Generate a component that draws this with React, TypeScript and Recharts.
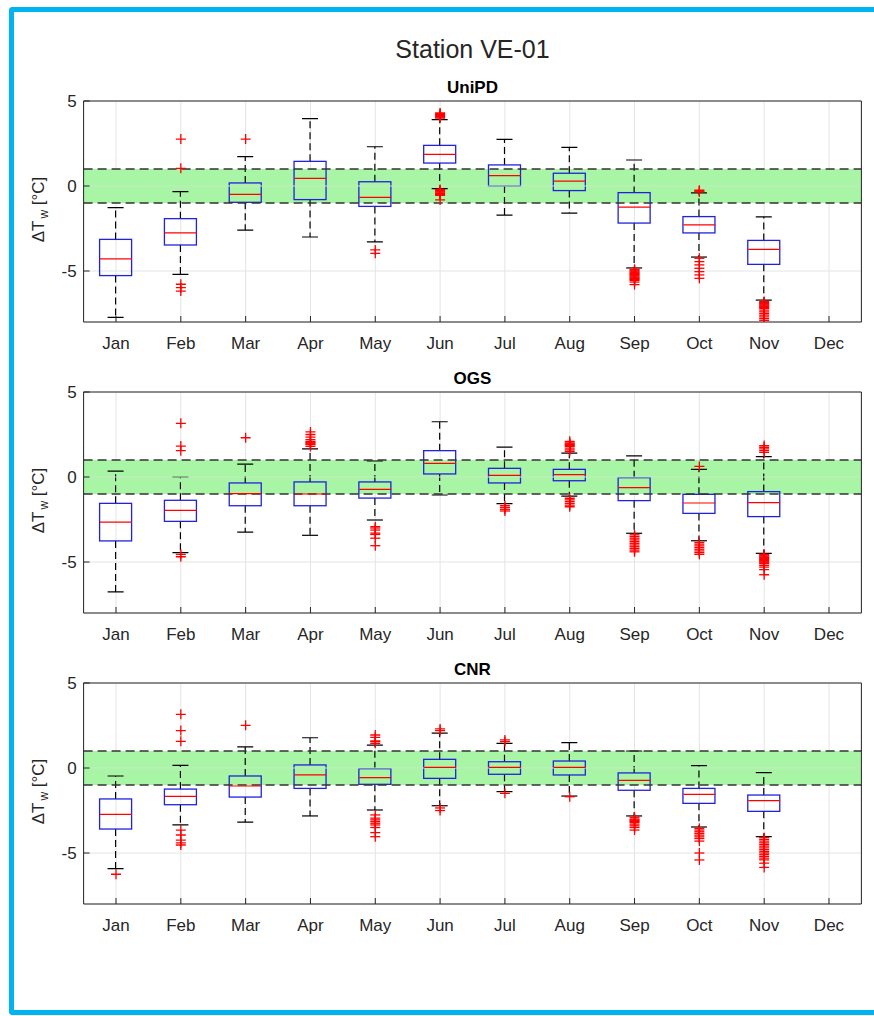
import React from 'react';
import { ComposedChart, Bar, Scatter, XAxis, YAxis, CartesianGrid, ReferenceArea, ReferenceLine } from 'recharts';

const FONT = '"Liberation Sans", Arial, Helvetica, sans-serif';
const TEXT = '#262626';
const BOX_W = 32;

const months = ['Jan', 'Feb', 'Mar', 'Apr', 'May', 'Jun', 'Jul', 'Aug', 'Sep', 'Oct', 'Nov', 'Dec'];
const monthTicks = [1, 2, 3, 4, 5, 6, 7, 8, 9, 10, 11, 12];
const yTicks = [-5, 0, 5];

// UniPD
const uniLo = [-7.73, -5.2, -2.59, -3.0, -3.29, -0.15, -1.71, -1.59, -4.82, -4.18, -6.71, null];
const uniQ1 = [-5.27, -3.47, -0.96, -0.8, -1.2, 1.35, 0.0, -0.27, -2.18, -2.76, -4.61, null];
const uniMed = [-4.29, -2.76, -0.49, 0.45, -0.67, 1.86, 0.61, 0.29, -1.24, -2.29, -3.73, null];
const uniQ3 = [-3.14, -1.92, 0.18, 1.45, 0.25, 2.39, 1.24, 0.75, -0.39, -1.8, -3.2, null];
const uniHi = [-1.27, -0.33, 1.73, 3.96, 2.31, 3.9, 2.74, 2.27, 1.53, -0.4, -1.82, null];
const uniOut = [
  [],
  [2.76, 1.04, -5.78, -5.98, -6.18],
  [2.76],
  [],
  [-3.76, -3.96],
  [4.0, 4.05, 4.1, 4.15, 4.2, 4.25, 4.3, -0.2, -0.25, -0.3, -0.35, -0.4, -0.45, -0.5, -0.55, -0.82],
  [],
  [],
  [-4.9, -4.95, -5.0, -5.05, -5.1, -5.15, -5.2, -5.25, -5.3, -5.35, -5.4, -5.45, -5.5, -5.55, -5.65, -5.8],
  [-0.35, -0.3, -0.25, -4.25, -4.45, -4.64, -4.84, -5.04, -5.23, -5.43],
  [-6.8, -6.85, -6.9, -6.95, -7.0, -7.05, -7.1, -7.15, -7.2, -7.3, -7.4, -7.5, -7.6, -7.7, -7.8, -7.9],
  [],
];

// OGS
const ogsLo = [-6.76, -4.45, -3.24, -3.43, -2.53, -1.06, -1.57, -1.12, -3.31, -3.75, -4.49, null];
const ogsQ1 = [-3.76, -2.61, -1.69, -1.69, -1.24, 0.18, -0.35, -0.22, -1.39, -2.14, -2.33, null];
const ogsMed = [-2.65, -1.96, -0.98, -1.0, -0.73, 0.8, 0.1, 0.14, -0.63, -1.53, -1.51, null];
const ogsQ3 = [-1.55, -1.37, -0.35, -0.29, -0.29, 1.55, 0.51, 0.45, -0.04, -1.02, -0.86, null];
const ogsHi = [0.35, 0.0, 0.76, 1.65, 0.94, 3.25, 1.76, 1.4, 1.24, 0.45, 1.2, null];
const ogsOut = [
  [],
  [3.16, 1.82, 1.55, -4.55, -4.69],
  [2.31],
  [1.8, 1.9, 1.95, 2.0, 2.05, 2.1, 2.2, 2.35, 2.5, 2.65],
  [-2.92, -3.0, -3.12, -3.3, -3.38, -3.6, -4.04],
  [],
  [-1.69, -1.8, -1.9, -2.0],
  [1.5, 1.6, 1.7, 1.8, 1.85, 1.9, 1.95, 2.0, 2.1, -1.25, -1.35, -1.45, -1.55, -1.65, -1.75],
  [-3.4, -3.5, -3.6, -3.7, -3.8, -3.9, -4.0, -4.1, -4.2, -4.3, -4.4],
  [0.62, -3.85, -3.95, -4.05, -4.15, -4.25, -4.35, -4.45, -4.55],
  [1.45, 1.55, 1.65, 1.75, 1.85, -4.55, -4.6, -4.65, -4.7, -4.75, -4.8, -4.85, -4.9, -4.95, -5.0, -5.05, -5.1, -5.2, -5.3, -5.45, -5.75],
  [],
];

// CNR
const cnrLo = [-5.92, -3.35, -3.18, -2.82, -2.47, -2.22, -1.39, -1.65, -2.82, -3.47, -4.04, null];
const cnrQ1 = [-3.59, -2.16, -1.71, -1.2, -0.96, -0.61, -0.37, -0.41, -1.31, -2.08, -2.55, null];
const cnrMed = [-2.73, -1.67, -1.06, -0.41, -0.57, 0.04, 0.04, 0.04, -0.73, -1.55, -1.92, null];
const cnrQ3 = [-1.82, -1.24, -0.47, 0.18, -0.04, 0.51, 0.37, 0.41, -0.29, -1.2, -1.59, null];
const cnrHi = [-0.47, 0.16, 1.24, 1.78, 1.35, 2.05, 1.45, 1.49, 1.0, 0.14, -0.27, null];
const cnrOut = [
  [-6.25],
  [3.16, 2.2, 1.57, -3.65, -3.94, -4.24, -4.4, -4.53],
  [2.51],
  [],
  [1.45, 1.55, 1.6, 1.8, 1.94, -2.76, -2.95, -3.05, -3.15, -3.25, -3.35, -3.5, -3.8, -4.04],
  [2.2, 2.3, -2.35, -2.5],
  [1.55, 1.65, -1.49],
  [-1.69],
  [-2.9, -3.0, -3.05, -3.1, -3.15, -3.2, -3.3, -3.4, -3.5, -3.65],
  [-3.55, -3.65, -3.75, -3.85, -3.95, -4.05, -4.15, -4.3, -5.0, -5.41],
  [-4.1, -4.2, -4.3, -4.4, -4.5, -4.6, -4.7, -4.8, -4.9, -5.0, -5.1, -5.2, -5.3, -5.4, -5.6, -5.85],
  [],
];

const panels = [
  { name: 'UniPD', lo: uniLo, q1: uniQ1, med: uniMed, q3: uniQ3, hi: uniHi, out: uniOut },
  { name: 'OGS', lo: ogsLo, q1: ogsQ1, med: ogsMed, q3: ogsQ3, hi: ogsHi, out: ogsOut },
  { name: 'CNR', lo: cnrLo, q1: cnrQ1, med: cnrMed, q3: cnrQ3, hi: cnrHi, out: cnrOut },
];

const edges = (p: any) => {
  const top = Math.min(p.y, p.y + p.height);
  const bot = Math.max(p.y, p.y + p.height);
  return { top, bot, cx: p.x + p.width / 2 };
};

const LowWhisker = (p: any) => {
  const { top, bot, cx } = edges(p);
  return (
    <g>
      <line x1={cx} x2={cx} y1={top} y2={bot} stroke="#000" strokeWidth={1.2} strokeDasharray="7 4" />
      <line x1={cx - p.width / 4} x2={cx + p.width / 4} y1={bot} y2={bot} stroke="#000" strokeWidth={1.2} />
    </g>
  );
};

const HighWhisker = (p: any) => {
  const { top, bot, cx } = edges(p);
  return (
    <g>
      <line x1={cx} x2={cx} y1={bot} y2={top} stroke="#000" strokeWidth={1.2} strokeDasharray="7 4" />
      <line x1={cx - p.width / 4} x2={cx + p.width / 4} y1={top} y2={top} stroke="#000" strokeWidth={1.2} />
    </g>
  );
};

const BoxShape = (p: any) => {
  const { top, bot } = edges(p);
  return <rect x={p.x} y={top} width={p.width} height={bot - top} fill="none" stroke="#2222dd" strokeWidth={1.3} />;
};

const MedianMark = (p: any) => (
  <line x1={p.cx - BOX_W / 2} x2={p.cx + BOX_W / 2} y1={p.cy} y2={p.cy} stroke="#ff0000" strokeWidth={1.2} />
);

const Cross = (p: any) => (
  <g stroke="#ff0000" strokeWidth={1.3}>
    <line x1={p.cx - 5} x2={p.cx + 5} y1={p.cy} y2={p.cy} />
    <line x1={p.cx} x2={p.cx} y1={p.cy - 5} y2={p.cy + 5} />
  </g>
);

const YLabel = (props: any) => {
  const vb = props.viewBox;
  if (!vb) return null;
  const x = vb.x + 0.5;
  const y = vb.y + vb.height / 2 - 2;
  return (
    <text x={x} y={y} transform={`rotate(-90, ${x}, ${y})`} textAnchor="middle" fontSize={17} fill={TEXT} fontFamily={FONT}>
      ΔT<tspan fontSize={12} dx={2} dy={4}>w</tspan>
      <tspan dy={-4}> [°C]</tspan>
    </text>
  );
};

const BoxPanel = ({ panel }: { panel: any }) => {
  const rows = months
    .map((_, i) => ({ m: i + 1, lo: panel.lo[i], q1: panel.q1[i], med: panel.med[i], q3: panel.q3[i], hi: panel.hi[i] }))
    .filter((r) => r.q1 != null);
  const outliers = panel.out.flatMap((vals: number[], i: number) => vals.map((v) => ({ m: i + 1, v })));
  const axisStroke = { stroke: TEXT };
  const tickStyle = { fontSize: 17, fill: TEXT, fontFamily: FONT };

  return (
    <ComposedChart
      width={874}
      height={291}
      data={rows}
      margin={{ top: 29, right: 11.6, bottom: 10, left: 43.6 }}
      barGap={-BOX_W}
    >
      <CartesianGrid stroke="#e4e4e4" />
      <ReferenceArea y1={-1} y2={1} fill="#a7f5a5" fillOpacity={1} stroke="none" />
      <ReferenceLine y={0} stroke="#c6e8c2" />
      <ReferenceLine y={1} stroke="#333" strokeWidth={1.5} strokeDasharray="9 5" />
      <ReferenceLine y={-1} stroke="#333" strokeWidth={1.5} strokeDasharray="9 5" />
      <XAxis
        dataKey="m"
        type="number"
        domain={[0.5, 12.5]}
        ticks={monthTicks}
        interval={0}
        allowDataOverflow
        tickFormatter={(v) => months[v - 1]}
        height={30}
        tickSize={-6}
        tickMargin={21}
        tick={tickStyle}
        axisLine={axisStroke}
        tickLine={axisStroke}
      />
      <XAxis
        xAxisId="top"
        orientation="top"
        type="number"
        domain={[0.5, 12.5]}
        ticks={monthTicks}
        interval={0}
        allowDataOverflow
        height={1}
        tickSize={-6}
        tick={false}
        axisLine={axisStroke}
        tickLine={axisStroke}
      />
      <YAxis
        type="number"
        domain={[-8, 5]}
        ticks={yTicks}
        interval={0}
        allowDataOverflow
        width={40}
        tickSize={-6}
        tickMargin={13}
        tick={tickStyle}
        axisLine={axisStroke}
        tickLine={axisStroke}
        label={<YLabel />}
      />
      <YAxis
        yAxisId="right"
        orientation="right"
        type="number"
        domain={[-8, 5]}
        ticks={yTicks}
        interval={0}
        allowDataOverflow
        width={1}
        tickSize={-6}
        tick={false}
        axisLine={axisStroke}
        tickLine={axisStroke}
      />
      <Bar dataKey={(d: any) => [d.lo, d.q1]} barSize={BOX_W} shape={LowWhisker} isAnimationActive={false} />
      <Bar dataKey={(d: any) => [d.q3, d.hi]} barSize={BOX_W} shape={HighWhisker} isAnimationActive={false} />
      <Bar dataKey={(d: any) => [d.q1, d.q3]} barSize={BOX_W} shape={BoxShape} isAnimationActive={false} />
      <Scatter data={rows} dataKey="med" shape={MedianMark} isAnimationActive={false} />
      <Scatter data={outliers} dataKey="v" shape={Cross} isAnimationActive={false} />
    </ComposedChart>
  );
};

const App = () => (
  <div style={{ position: 'absolute', left: 0, top: 0, width: 874, height: 1016, background: '#fff', fontFamily: FONT, overflow: 'hidden' }}>
    <div
      style={{
        position: 'absolute',
        left: 9,
        top: 7,
        width: 880,
        height: 1008,
        boxSizing: 'border-box',
        borderTop: '5px solid #00b4f0',
        borderLeft: '5px solid #00b4f0',
        borderBottom: '5px solid #00b4f0',
        borderTopLeftRadius: 4,
        borderBottomLeftRadius: 4,
      }}
    />
    <div style={{ position: 'absolute', left: 83.6, width: 777.8, top: 36.8, fontSize: 25, lineHeight: '25px', textAlign: 'center', color: TEXT }}>
      Station VE-01
    </div>
    {panels.map((p, i) => (
      <React.Fragment key={p.name}>
        <div
          style={{
            position: 'absolute',
            left: 83.6,
            width: 777.8,
            top: 78.6 + 291 * i,
            fontSize: 17,
            lineHeight: '17px',
            fontWeight: 'bold',
            textAlign: 'center',
            color: '#000',
          }}
        >
          {p.name}
        </div>
        <div style={{ position: 'absolute', left: 0, top: 71 + 291 * i }}>
          <BoxPanel panel={p} />
        </div>
      </React.Fragment>
    ))}
  </div>
);

export default App;
